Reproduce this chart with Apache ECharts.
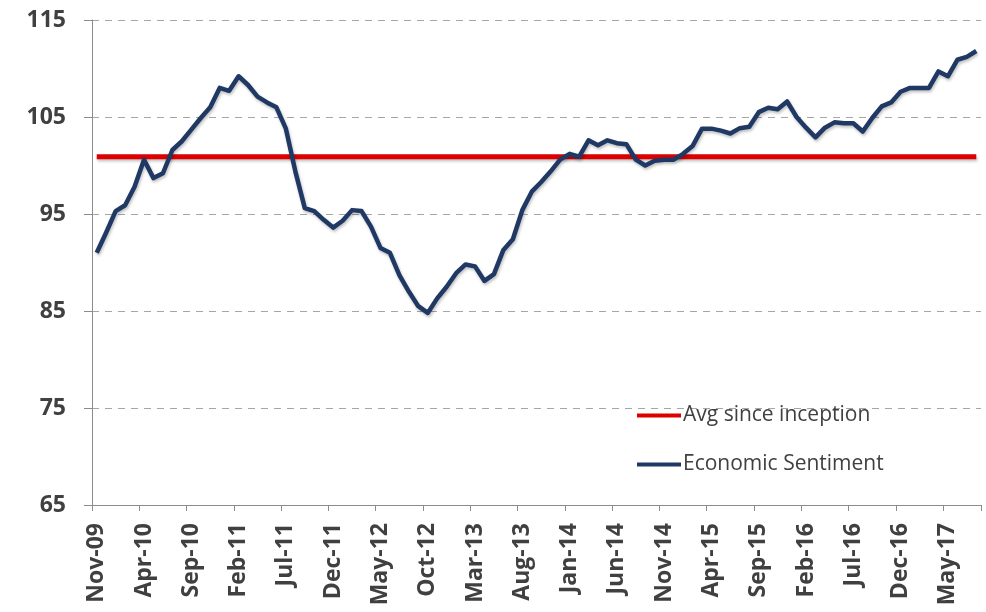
<!DOCTYPE html>
<html>
<head>
<meta charset="utf-8">
<script src="https://cdn.jsdelivr.net/npm/echarts@6/dist/echarts.min.js"></script>
<style>
  html, body { margin: 0; padding: 0; background: #ffffff; }
  #chart { width: 986px; height: 612px; }
</style>
</head>
<body>
<div id="chart"></div>
<script>
// Monthly categories, Nov-09 through Aug-17
const months = [
  'Nov-09','Dec-09','Jan-10','Feb-10','Mar-10','Apr-10','May-10','Jun-10','Jul-10','Aug-10',
  'Sep-10','Oct-10','Nov-10','Dec-10','Jan-11','Feb-11','Mar-11','Apr-11','May-11','Jun-11',
  'Jul-11','Aug-11','Sep-11','Oct-11','Nov-11','Dec-11','Jan-12','Feb-12','Mar-12','Apr-12',
  'May-12','Jun-12','Jul-12','Aug-12','Sep-12','Oct-12','Nov-12','Dec-12','Jan-13','Feb-13',
  'Mar-13','Apr-13','May-13','Jun-13','Jul-13','Aug-13','Sep-13','Oct-13','Nov-13','Dec-13',
  'Jan-14','Feb-14','Mar-14','Apr-14','May-14','Jun-14','Jul-14','Aug-14','Sep-14','Oct-14',
  'Nov-14','Dec-14','Jan-15','Feb-15','Mar-15','Apr-15','May-15','Jun-15','Jul-15','Aug-15',
  'Sep-15','Oct-15','Nov-15','Dec-15','Jan-16','Feb-16','Mar-16','Apr-16','May-16','Jun-16',
  'Jul-16','Aug-16','Sep-16','Oct-16','Nov-16','Dec-16','Jan-17','Feb-17','Mar-17','Apr-17',
  'May-17','Jun-17','Jul-17','Aug-17'
];

// Economic sentiment indicator, one value per month
const sentiment = [
  91.0, 93.1, 95.3, 95.9, 97.8, 100.6, 98.7, 99.2, 101.6, 102.5,
  103.7, 104.9, 106.0, 108.0, 107.7, 109.2, 108.3, 107.1, 106.5, 106.0,
  103.8, 99.4, 95.6, 95.3, 94.4, 93.6, 94.3, 95.4, 95.3, 93.7,
  91.5, 91.0, 88.7, 87.0, 85.5, 84.8, 86.3, 87.5, 88.9, 89.8,
  89.6, 88.1, 88.8, 91.3, 92.4, 95.4, 97.3, 98.3, 99.4, 100.6,
  101.2, 100.9, 102.6, 102.1, 102.6, 102.3, 102.2, 100.6, 100.0, 100.5,
  100.6, 100.6, 101.2, 102.0, 103.8, 103.8, 103.6, 103.3, 103.85, 104.0,
  105.5, 105.95, 105.8, 106.6, 105.0, 103.9, 102.9, 103.9, 104.45, 104.35,
  104.35, 103.5, 104.9, 106.1, 106.5, 107.6, 108.0, 108.0, 108.0, 109.7,
  109.2, 110.9, 111.2, 111.8
];

// Long-run average since inception
const avgSinceInception = 100.9;
const avgLine = months.map(() => avgSinceInception);

// Value axis ticks
const yMin = 65, yMax = 115, yStep = 10;

const seriesNames = ['Avg since inception', 'Economic Sentiment'];

const chart = echarts.init(document.getElementById('chart'), null, { renderer: 'canvas' });

const fontFamily = '"Open Sans", Lato, sans-serif';

chart.setOption({
  animation: false,
  backgroundColor: '#ffffff',
  grid: { left: 92, right: 5, top: 20, bottom: 107, containLabel: false },
  legend: {
    orient: 'vertical',
    left: 632,
    top: 400,
    itemGap: 28,
    itemWidth: 44,
    itemHeight: 4,
    icon: 'rect',
    data: seriesNames,
    textStyle: { color: '#404040', fontSize: 21, fontFamily: fontFamily, padding: [0, 0, 0, -3] }
  },
  xAxis: {
    type: 'category',
    data: months,
    boundaryGap: true,
    axisLine: { lineStyle: { color: '#8c8c8c', width: 1 } },
    axisTick: { show: true, interval: 4, length: 6, lineStyle: { color: '#8c8c8c' } },
    axisLabel: {
      interval: 4,
      rotate: 90,
      margin: 18,
      color: '#404040',
      fontSize: 23,
      fontWeight: 'bold',
      fontFamily: fontFamily
    },
    splitLine: { show: false }
  },
  yAxis: {
    type: 'value',
    min: yMin,
    max: yMax,
    interval: yStep,
    axisLine: { show: true, lineStyle: { color: '#8c8c8c', width: 1 } },
    axisTick: { show: true, length: 8, lineStyle: { color: '#8c8c8c' } },
    axisLabel: {
      margin: 26,
      color: '#404040',
      fontSize: 23,
      fontWeight: 'bold',
      fontFamily: fontFamily
    },
    splitLine: { show: true, lineStyle: { color: '#a6a6a6', type: [7, 6], width: 1 } }
  },
  series: [
    {
      name: seriesNames[0],
      type: 'line',
      data: avgLine,
      symbol: 'none',
      z: 2,
      itemStyle: { color: '#dc0000' },
      lineStyle: {
        color: '#dc0000', width: 5,
        shadowColor: 'rgba(0,0,0,0.25)', shadowBlur: 3, shadowOffsetX: 1, shadowOffsetY: 2
      }
    },
    {
      name: seriesNames[1],
      type: 'line',
      data: sentiment,
      symbol: 'none',
      z: 3,
      itemStyle: { color: '#1f3864' },
      lineStyle: {
        color: '#1f3864', width: 4.5, join: 'round',
        shadowColor: 'rgba(0,0,0,0.25)', shadowBlur: 3, shadowOffsetX: 1, shadowOffsetY: 2
      }
    }
  ]
});
</script>
</body>
</html>
